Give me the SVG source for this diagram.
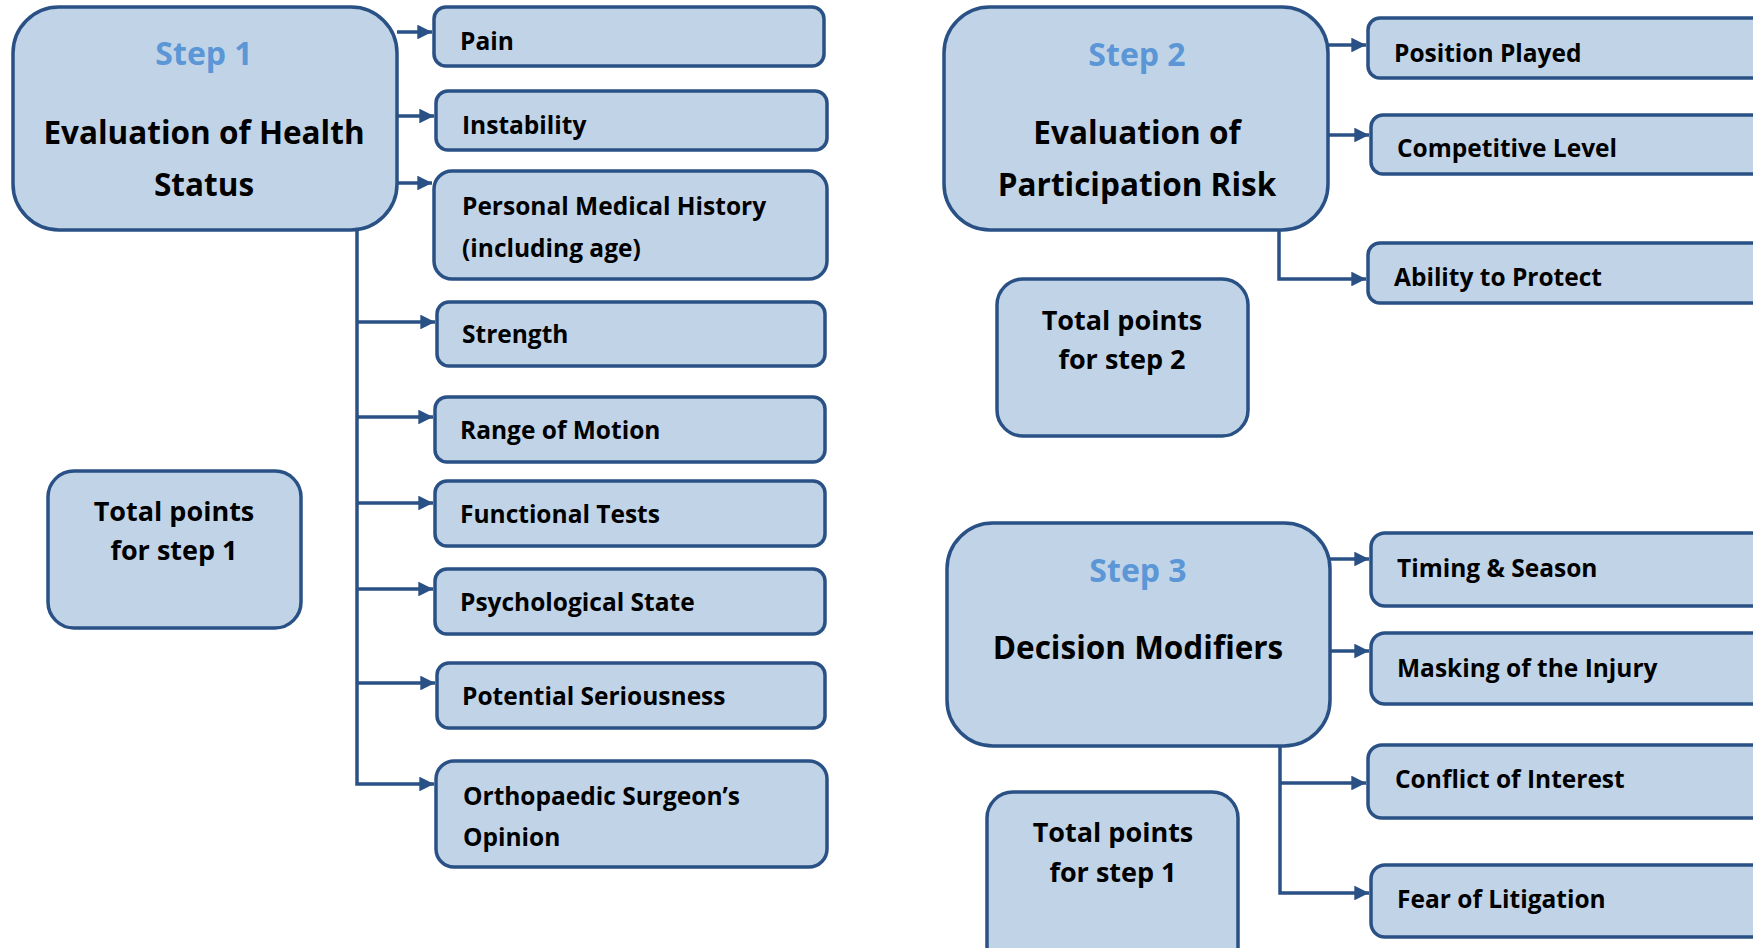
<svg xmlns="http://www.w3.org/2000/svg" width="1753" height="948" viewBox="0 0 1753 948">
<defs>
<marker id="arr" viewBox="0 0 10 10" refX="10" refY="5" markerWidth="4.2" markerHeight="4.2" orient="auto" markerUnits="strokeWidth">
<path d="M0,0 L10,5 L0,10 Z" fill="#2a5185"/>
</marker>
<style>
.box{fill:#c1d4e7;stroke:#2a5185;stroke-width:3.5}
.t{font-family:"Open Sans",Lato,"Liberation Sans",sans-serif;font-weight:bold;fill:#000}
.leaf{font-size:24.5px}
.head{font-size:31.5px;text-anchor:middle}
.step{font-size:32px;text-anchor:middle;fill:#5b96d6}
.tot{font-size:27px;text-anchor:middle}
.c{fill:none;stroke:#2a5185;stroke-width:3.5}
</style>
</defs>
<rect width="1753" height="948" fill="#fff"/>

<g id="connectors">
<path class="c" d="M397,32 H432" marker-end="url(#arr)"/>
<path class="c" d="M397,116 H434" marker-end="url(#arr)"/>
<path class="c" d="M397,183 H432" marker-end="url(#arr)"/>
<path class="c" d="M357,230 V784 H434" marker-end="url(#arr)"/>
<path class="c" d="M357,322 H435" marker-end="url(#arr)"/>
<path class="c" d="M357,417 H433" marker-end="url(#arr)"/>
<path class="c" d="M357,503 H433" marker-end="url(#arr)"/>
<path class="c" d="M357,589 H433" marker-end="url(#arr)"/>
<path class="c" d="M357,683 H435" marker-end="url(#arr)"/>
<path class="c" d="M1328,45 H1366" marker-end="url(#arr)"/>
<path class="c" d="M1328,135 H1369" marker-end="url(#arr)"/>
<path class="c" d="M1279,230 V279 H1366" marker-end="url(#arr)"/>
<path class="c" d="M1330,559 H1369" marker-end="url(#arr)"/>
<path class="c" d="M1330,651 H1369" marker-end="url(#arr)"/>
<path class="c" d="M1280,746 V893 H1369" marker-end="url(#arr)"/>
<path class="c" d="M1280,783 H1366" marker-end="url(#arr)"/>
</g>

<g id="step1">
<rect class="box" x="13" y="7" width="384" height="223" rx="46"/>
<text class="t step" x="204" y="65">Step 1</text>
<text class="t head" x="204" y="144">Evaluation of Health</text>
<text class="t head" x="204" y="196">Status</text>
</g>
<g id="pain"><rect class="box" x="434" y="7" width="390" height="59" rx="12"/><text class="t leaf" x="460" y="50">Pain</text></g>
<g id="instability"><rect class="box" x="436" y="91" width="391" height="59" rx="12"/><text class="t leaf" x="462" y="134">Instability</text></g>
<g id="history"><rect class="box" x="434" y="171" width="393" height="108" rx="18"/><text class="t leaf" x="462" y="215">Personal Medical History</text><text class="t leaf" x="462" y="257">(including age)</text></g>
<g id="strength"><rect class="box" x="437" y="302" width="388" height="64" rx="12"/><text class="t leaf" x="462" y="343">Strength</text></g>
<g id="rom"><rect class="box" x="435" y="397" width="390" height="65" rx="12"/><text class="t leaf" x="460" y="439">Range of Motion</text></g>
<g id="functional"><rect class="box" x="435" y="481" width="390" height="65" rx="12"/><text class="t leaf" x="460" y="523">Functional Tests</text></g>
<g id="psych"><rect class="box" x="435" y="569" width="390" height="65" rx="12"/><text class="t leaf" x="460" y="611">Psychological State</text></g>
<g id="serious"><rect class="box" x="437" y="663" width="388" height="65" rx="12"/><text class="t leaf" x="462" y="705">Potential Seriousness</text></g>
<g id="surgeon"><rect class="box" x="436" y="761" width="391" height="106" rx="18"/><text class="t leaf" x="463" y="805">Orthopaedic Surgeon’s</text><text class="t leaf" x="463" y="846">Opinion</text></g>
<g id="total1"><rect class="box" x="48" y="471" width="253" height="157" rx="26"/><text class="t tot" x="174" y="521">Total points</text><text class="t tot" x="174" y="560">for step 1</text></g>

<g id="step2">
<rect class="box" x="944" y="7" width="384" height="223" rx="46"/>
<text class="t step" x="1137" y="66">Step 2</text>
<text class="t head" x="1137" y="144">Evaluation of</text>
<text class="t head" x="1137" y="196">Participation Risk</text>
</g>
<g id="position"><rect class="box" x="1368" y="18" width="420" height="60" rx="12"/><text class="t leaf" x="1394" y="62">Position Played</text></g>
<g id="competitive"><rect class="box" x="1371" y="115" width="420" height="59" rx="12"/><text class="t leaf" x="1397" y="157">Competitive Level</text></g>
<g id="protect"><rect class="box" x="1368" y="243" width="420" height="60" rx="12"/><text class="t leaf" x="1394" y="286">Ability to Protect</text></g>
<g id="total2"><rect class="box" x="997" y="279" width="251" height="157" rx="26"/><text class="t tot" x="1122" y="330">Total points</text><text class="t tot" x="1122" y="369">for step 2</text></g>

<g id="step3">
<rect class="box" x="947" y="523" width="383" height="223" rx="46"/>
<text class="t step" x="1138" y="582">Step 3</text>
<text class="t head" x="1138" y="659">Decision Modifiers</text>
</g>
<g id="timing"><rect class="box" x="1371" y="533" width="420" height="73" rx="14"/><text class="t leaf" x="1397" y="577">Timing &amp; Season</text></g>
<g id="masking"><rect class="box" x="1371" y="633" width="420" height="71" rx="14"/><text class="t leaf" x="1397" y="677">Masking of the Injury</text></g>
<g id="conflict"><rect class="box" x="1368" y="745" width="420" height="73" rx="14"/><text class="t leaf" x="1395" y="788">Conflict of Interest</text></g>
<g id="litigation"><rect class="box" x="1371" y="865" width="420" height="72" rx="14"/><text class="t leaf" x="1397" y="908">Fear of Litigation</text></g>
<g id="total3"><rect class="box" x="987" y="792" width="251" height="190" rx="26"/><text class="t tot" x="1113" y="842">Total points</text><text class="t tot" x="1113" y="882">for step 1</text></g>
</svg>
